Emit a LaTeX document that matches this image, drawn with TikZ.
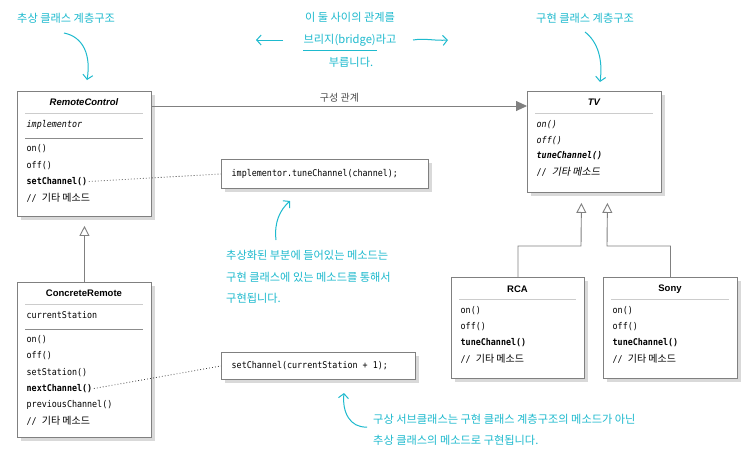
\documentclass[tikz,border=0pt]{standalone}
\usepackage{fontspec}
\setmainfont{Liberation Sans}
\setmonofont[FakeStretch=0.9]{DejaVu Sans Mono}
\newfontfamily\kr{Noto Sans CJK KR}
\newfontfamily\krsl[FakeSlant=0.2]{Noto Sans CJK KR}
\usetikzlibrary{arrows.meta,shadows}
\definecolor{annoc}{RGB}{30,186,206}
\definecolor{lineg}{RGB}{128,128,128}
\newcommand{\etc}{// {\kr\fontsize{10}{11}\selectfont 기타 메소드}}
\newcommand{\etcsl}{// {\krsl\fontsize{10}{11}\selectfont 기타 메소드}}
\tikzset{
  umlbox/.style={draw=lineg, line width=0.9pt, fill=white, anchor=north west, inner sep=0pt,
    drop shadow={shadow xshift=4pt, shadow yshift=-4pt, fill=black!15, opacity=1}},
  umltitle/.style={font=\fontsize{9.5}{11}\selectfont\bfseries, inner sep=0pt},
  mth/.style={anchor=west, inner sep=1.5pt, font=\fontsize{9.3}{11}\selectfont\ttfamily},
  sepl/.style={draw=black!20, line width=0.9pt},
  sepd/.style={draw=black!45, line width=0.9pt},
  annotext/.style={text=annoc, font=\fontsize{11.2}{13}\selectfont\kr, inner sep=0pt},
  annoarrow/.style={draw=annoc, line width=1pt, -{Straight Barb[length=4.5pt,width=10pt]}},
  gen/.style={draw=lineg, line width=0.9pt, -{Triangle[open,length=10pt,width=10pt,fill=white]}},
  comp/.style={draw=lineg, line width=0.9pt, -{Triangle[length=11pt,width=10pt,fill=lineg]}},
  dots/.style={draw=black!75, line width=0.8pt, dash pattern=on 0.8pt off 2.2pt},
}
\begin{document}
\begin{tikzpicture}[x=1pt,y=-1pt]
\useasboundingbox[fill=white] (0,0) rectangle (750,456);

% ---------- boxes ----------
\node[umlbox, minimum width=134pt, minimum height=125pt] (rc) at (17,91) {};
\node[umlbox, minimum width=134pt, minimum height=101pt] (tv) at (527,91) {};
\node[umlbox, minimum width=134pt, minimum height=155pt] (cr) at (17,282) {};
\node[umlbox, minimum width=133pt, minimum height=101pt] (rca) at (451,277) {};
\node[umlbox, minimum width=134pt, minimum height=101pt] (sony) at (603,277) {};
\node[umlbox, minimum width=207pt, minimum height=29pt] (n1) at (221,159) {};
\node[umlbox, minimum width=194pt, minimum height=27pt] (n2) at (221,352) {};

% ---------- RemoteControl ----------
\node[umltitle, font=\fontsize{9.5}{11}\selectfont\bfseries\itshape] (rct) at (84,102) {RemoteControl};
\draw[sepl] (25,113) -- (143,113);
\node[mth, font=\fontsize{9.3}{11}\selectfont\ttfamily\itshape] (rcf) at (25,125) {implementor};
\draw[sepd] (25,138) -- (143,138);
\node[mth] (rc1) at (25,149) {on()};
\node[mth] (rc2) at (25,165.5) {off()};
\node[mth, font=\fontsize{9.3}{11}\selectfont\ttfamily\bfseries] (rc3) at (25,181.5) {setChannel()};
\node[mth] (rc4) at (25,198) {\etc};

% ---------- TV ----------
\node[umltitle, font=\fontsize{9.5}{11}\selectfont\bfseries\itshape] (tvt) at (594,102) {TV};
\draw[sepl] (535,113) -- (653,113);
\node[mth, font=\fontsize{9.3}{11}\selectfont\ttfamily\itshape] (tv1) at (535,125) {on()};
\node[mth, font=\fontsize{9.3}{11}\selectfont\ttfamily\itshape] (tv2) at (535,140.5) {off()};
\node[mth, font=\fontsize{9.3}{11}\selectfont\ttfamily\bfseries\itshape] (tv3) at (535,156) {tuneChannel()};
\node[mth] (tv4) at (535,172) {\etcsl};

% ---------- ConcreteRemote ----------
\node[umltitle] (crt) at (84,293) {ConcreteRemote};
\draw[sepl] (25,304) -- (143,304);
\node[mth] (crf) at (25,315) {currentStation};
\draw[sepd] (25,329) -- (143,329);
\node[mth] (cr1) at (25,340) {on()};
\node[mth] (cr2) at (25,356) {off()};
\node[mth] (cr3) at (25,372.5) {setStation()};
\node[mth, font=\fontsize{9.3}{11}\selectfont\ttfamily\bfseries] (cr4) at (25,388.5) {nextChannel()};
\node[mth] (cr5) at (25,404.5) {previousChannel()};
\node[mth] (cr6) at (25,421) {\etc};

% ---------- RCA ----------
\node[umltitle] (rcat) at (517.5,289) {RCA};
\draw[sepl] (459,299) -- (576,299);
\node[mth] (rca1) at (459,311) {on()};
\node[mth] (rca2) at (459,327) {off()};
\node[mth, font=\fontsize{9.3}{11}\selectfont\ttfamily\bfseries] (rca3) at (459,343) {tuneChannel()};
\node[mth] (rca4) at (459,359) {\etc};

% ---------- Sony ----------
\node[umltitle] (sonyt) at (670,289) {Sony};
\draw[sepl] (611,299) -- (729,299);
\node[mth] (sony1) at (611,311) {on()};
\node[mth] (sony2) at (611,327) {off()};
\node[mth, font=\fontsize{9.3}{11}\selectfont\ttfamily\bfseries] (sony3) at (611,343) {tuneChannel()};
\node[mth] (sony4) at (611,359) {\etc};

% ---------- notes ----------
\node[mth] (n1t) at (230,174) {implementor.tuneChannel(channel);};
\node[mth] (n2t) at (230,365.5) {setChannel(currentStation + 1);};

% ---------- connectors ----------
\draw[comp] ([yshift=-15pt]rc.north east) -- ([yshift=-15pt]tv.north west)
  node[midway, above=3pt, font=\fontsize{10}{11}\selectfont\kr, text=black!70, inner sep=0pt] (complabel) {구성 관계};
\draw[gen] (cr.north) -- ([yshift=-9pt]rc.south);
\draw[gen] (rca.north) |- (581,246) -- ([xshift=-13pt,yshift=-10pt]tv.south);
\draw[gen] (sony.north) |- (607,246) -- ([xshift=13pt,yshift=-10pt]tv.south);
\draw[dots] (rc3.east) -- (n1.west);
\draw[dots] (cr4.east) -- (n2.west);

% ---------- annotations ----------
\node[annotext, anchor=west] (a1) at (17,18) {추상 클래스 계층구조};
\coordinate (a1s) at (64,33);
\coordinate (a1e) at (87,80);
\draw[annoarrow] (a1s) .. controls (84,37) and (91,56) .. (a1e);

\node[annotext, anchor=west] (a2) at (536,18) {구현 클래스 계층구조};
\coordinate (a2s) at (585,32);
\coordinate (a2e) at (600,82);
\draw[annoarrow] (a2s) .. controls (598,42) and (603,60) .. (a2e);

\node[annotext] (b1) at (350,17.5) {이 둘 사이의 관계를};
\node[annotext] (b2) at (350,40) {브리지(bridge)라고};
\node[annotext] (b3) at (351,62.5) {부릅니다.};
\draw[annoc, line width=1pt] (303,50) -- (377,50);
\coordinate (bl1) at (283,40);
\coordinate (bl2) at (256,40);
\coordinate (br1) at (413,40);
\coordinate (br2) at (448,40);
\draw[annoarrow] (bl1) -- (bl2);
\draw[annoarrow] (br1) .. controls (425,38) and (435,41) .. (br2);

\node[annotext, anchor=west] (c1) at (226,255) {추상화된 부분에 들어있는 메소드는};
\node[annotext, anchor=west] (c2) at (226,277) {구현 클래스에 있는 메소드를 통해서};
\node[annotext, anchor=west] (c3) at (226,298.5) {구현됩니다.};
\coordinate (cs) at (276,240);
\coordinate (ce) at (290,201);
\draw[annoarrow] (cs) .. controls (274,222) and (280,210) .. (ce);

\node[annotext, anchor=west] (d1) at (373,419) {구상 서브클래스는 구현 클래스 계층구조의 메소드가 아닌};
\node[annotext, anchor=west] (d2) at (373,440) {추상 클래스의 메소드로 구현됩니다.};
\coordinate (ds) at (367,427);
\coordinate (de) at (344,393);
\draw[annoarrow] (ds) .. controls (350,428) and (342,412) .. (de);
\end{tikzpicture}
\end{document}
